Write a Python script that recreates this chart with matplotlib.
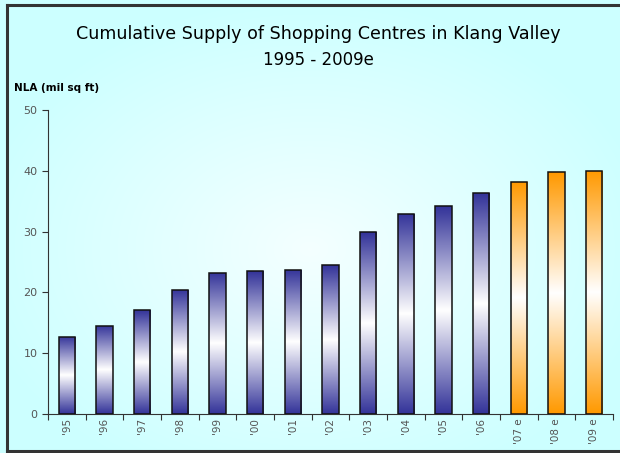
import numpy as np
import matplotlib
matplotlib.use("Agg")
import matplotlib.pyplot as plt
from matplotlib.lines import Line2D
from matplotlib.colors import LinearSegmentedColormap

years = ["'95", "'96", "'97", "'98", "'99", "'00", "'01", "'02", "'03",
         "'04", "'05", "'06", "'07 e", "'08 e", "'09 e"]
nla = [12.7, 14.5, 17.1, 20.4, 23.2, 23.5, 23.7, 24.5, 29.9,
       32.9, 34.2, 36.3, 38.2, 39.8, 40.0]
estimate = [False] * 12 + [True] * 3

plt.rcParams["font.family"] = ["DejaVu Sans"]

fig = plt.figure(figsize=(6.2, 4.53), dpi=100)

# background: soft radial gradient, white-ish centre to light cyan
yy, xx = np.mgrid[0:1:453j, 0:1:620j]
r = np.sqrt(((xx - 0.5) / 0.75) ** 2 + ((yy - 0.45) / 0.75) ** 2)
r = np.clip(r / 0.75, 0, 1)
bg_cmap = LinearSegmentedColormap.from_list("bg", ["#f4ffff", "#ccffff"])
fig.figimage(r, cmap=bg_cmap, origin="lower", zorder=-10)

# frame on left, top and bottom only
fx0, fy0, fy1 = 7 / 620, 1 - 451 / 453, 1 - 4.5 / 453
for xs, ys in [([fx0, 1.01], [fy1, fy1]), ([fx0, fx0], [fy0, fy1]), ([fx0, 1.01], [fy0, fy0])]:
    fig.add_artist(Line2D(xs, ys, color="#333333", lw=2.2))

ax = fig.add_axes([0.0774, 0.0861, 0.9113, 0.6711])
ax.set_facecolor("none")

blue = LinearSegmentedColormap.from_list("b", ["#333399", "#ffffff", "#333399"])
orange = LinearSegmentedColormap.from_list("o", ["#ff9900", "#ffffff", "#ff9900"])
grad = np.linspace(0, 1, 256).reshape(-1, 1)

x = np.arange(len(years))
bars = ax.bar(x, nla, width=0.43, facecolor="none", edgecolor="#111111", lw=1.1, zorder=3)
for b, est in zip(bars, estimate):
    bx, by = b.get_x(), b.get_y()
    w, h = b.get_width(), b.get_height()
    im = ax.imshow(grad, cmap=orange if est else blue, aspect="auto",
                   extent=[bx, bx + w, by, by + h], origin="lower", zorder=2)
    im.set_clip_path(b)

ax.set_xlim(-0.5, len(years) - 0.5)
ax.set_ylim(0, 50)
ax.set_yticks([0, 10, 20, 30, 40, 50])
ax.set_xticks(np.arange(len(years) + 1) - 0.5, minor=False)
ax.set_xticklabels([])
ax.set_xticks(x, minor=True)
ax.set_xticklabels(years, minor=True, rotation=90)
ax.tick_params(axis="x", which="major", length=4, color="#333333")
ax.tick_params(axis="x", which="minor", length=0, labelsize=7.5, labelcolor="#555555", pad=3)
ax.tick_params(axis="y", length=4, color="#333333", labelsize=8, labelcolor="#555555")
for s in ["top", "right"]:
    ax.spines[s].set_visible(False)
for s in ["left", "bottom"]:
    ax.spines[s].set_color("#333333")

fig.text(0.513, 0.925, "Cumulative Supply of Shopping Centres in Klang Valley",
         ha="center", va="center", fontsize=12.6)
fig.text(0.513, 0.868, "1995 - 2009e", ha="center", va="center", fontsize=12)
fig.text(0.023, 0.806, "NLA (mil sq ft)", ha="left", va="center",
         fontsize=7.5, fontweight="bold")

fig.savefig("out.png", dpi=100)
